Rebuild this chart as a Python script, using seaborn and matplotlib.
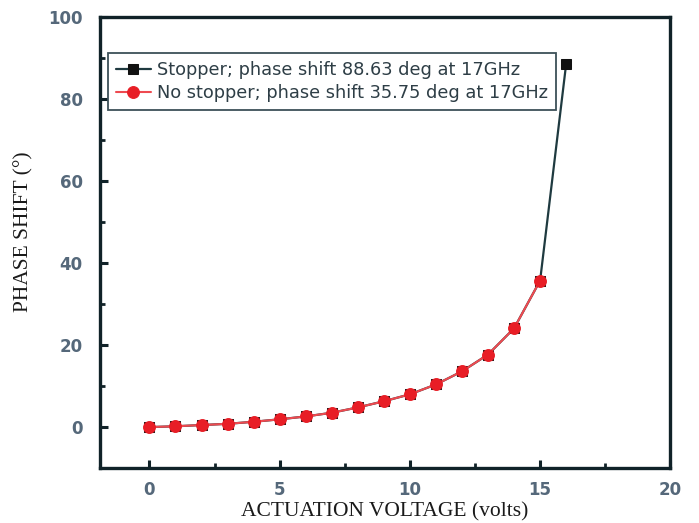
import matplotlib
matplotlib.use("Agg")
import matplotlib.pyplot as plt
import seaborn as sns
import pandas as pd
from matplotlib.ticker import MultipleLocator

voltage_stopper = [0, 1, 2, 3, 4, 5, 6, 7, 8, 9, 10, 11, 12, 13, 14, 15, 16]
phase_stopper = [0.0, 0.2, 0.5, 0.8, 1.3, 1.9, 2.6, 3.5, 4.8, 6.3, 8.0, 10.4, 13.6, 17.7, 24.1, 35.75, 88.63]
voltage_nostop = [0, 1, 2, 3, 4, 5, 6, 7, 8, 9, 10, 11, 12, 13, 14, 15]
phase_nostop = [0.0, 0.2, 0.5, 0.8, 1.3, 1.9, 2.6, 3.5, 4.8, 6.3, 8.0, 10.4, 13.6, 17.7, 24.1, 35.75]
label_stopper = "Stopper; phase shift 88.63 deg at 17GHz"
label_nostop = "No stopper; phase shift 35.75 deg at 17GHz"

sns.set_style("white")
fig = plt.figure(figsize=(6.99, 5.23), dpi=100)
ax = fig.add_axes([0.143, 0.105, 0.816, 0.862])

df_s = pd.DataFrame({"v": voltage_stopper, "p": phase_stopper})
df_n = pd.DataFrame({"v": voltage_nostop, "p": phase_nostop})

sns.lineplot(data=df_s, x="v", y="p", ax=ax, color="#1f3a40", lw=1.6,
             marker="s", markersize=7, markeredgecolor="#111111",
             markerfacecolor="#111111", label=label_stopper, zorder=2)
sns.lineplot(data=df_n, x="v", y="p", ax=ax, color="#ee4a50", lw=1.5,
             marker="o", markersize=8.5, markeredgecolor="#e81e26",
             markerfacecolor="#e81e26", label=label_nostop, zorder=3)

ax.set_xlim(-1.9, 20.0)
ax.set_ylim(-10, 100)
ax.xaxis.set_major_locator(MultipleLocator(5))
ax.xaxis.set_minor_locator(MultipleLocator(2.5))
ax.yaxis.set_major_locator(MultipleLocator(20))
ax.yaxis.set_minor_locator(MultipleLocator(10))

spine_col = "#102228"
for s in ax.spines.values():
    s.set_color(spine_col)
    s.set_linewidth(2.4)

ax.tick_params(which="major", direction="in", length=6, width=2.2, color=spine_col,
               labelsize=12, labelcolor="#55687a",
               top=False, right=False, bottom=True, left=True)
ax.tick_params(axis="x", which="major", pad=9)
ax.tick_params(axis="y", which="major", pad=12.5)
ax.tick_params(which="minor", direction="in", length=3.5, width=2, color=spine_col,
               top=False, right=False, bottom=True, left=True)
for lab in ax.get_xticklabels() + ax.get_yticklabels():
    lab.set_fontweight("bold")
    lab.set_family("DejaVu Sans")

ax.set_xlabel("ACTUATION VOLTAGE (volts)", family="Liberation Serif", fontsize=15.5,
              color="#1a1a1a", labelpad=2.5)
ax.set_ylabel("PHASE SHIFT (°)", family="Liberation Serif", fontsize=15.5,
              color="#1a1a1a")
ax.yaxis.set_label_coords(-0.116, 0.524)

leg = ax.legend(loc="upper left", bbox_to_anchor=(0.0135, 0.92), frameon=True,
                fancybox=False, edgecolor="#3d5058", framealpha=1,
                prop={"family": "DejaVu Sans", "size": 12.8},
                handlelength=2.0, handletextpad=0.3, borderpad=0.45,
                labelspacing=0.25, borderaxespad=0)
leg.get_frame().set_linewidth(1.3)
for t in leg.get_texts():
    t.set_color("#2e3e46")

fig.savefig("out.png", dpi=100)
